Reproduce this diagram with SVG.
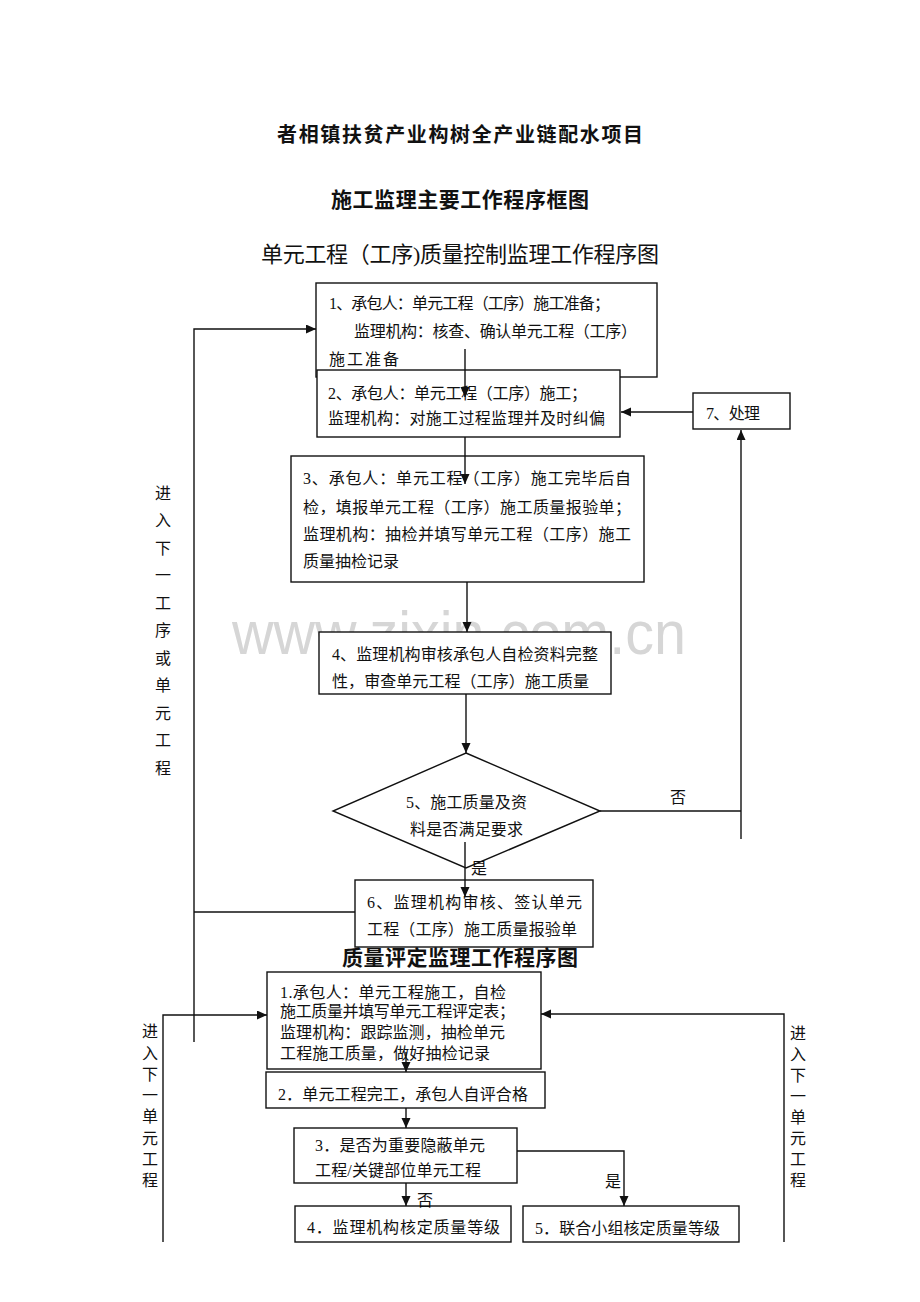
<svg xmlns="http://www.w3.org/2000/svg" width="920" height="1302" viewBox="0 0 920 1302">
<style>
text{font-family:"Liberation Serif","Noto Sans CJK SC",serif;fill:#111;dominant-baseline:central}
.t{font-size:16px}
.lbl{font-size:16px}
.vt{font-size:16px;text-anchor:middle}
.title{font-weight:bold;font-size:20px;text-anchor:middle}
.box{fill:#fff;stroke:#111;stroke-width:1.4}
.ln{fill:none;stroke:#111;stroke-width:1.4}
.wm{font-family:"Liberation Sans",Arial,sans-serif;font-size:62px;fill:#d6d6d6}
</style>
<defs>
<marker id="ah" markerUnits="userSpaceOnUse" markerWidth="10" markerHeight="10" refX="10" refY="4.5" orient="auto">
<path d="M0,0 L10,4.5 L0,9 z" fill="#111"/>
</marker>
</defs>
<rect width="920" height="1302" fill="#fff"/>
<text class="wm" x="232" y="632" textLength="454" lengthAdjust="spacingAndGlyphs">www.zixin.com.cn</text>

<g id="titles">
<text class="title" x="460" y="135" textLength="366">者相镇扶贫产业构树全产业链配水项目</text>
<text class="title" x="460" y="200" style="font-size:21px" textLength="258">施工监理主要工作程序框图</text>
<text x="460" y="254" text-anchor="middle" style="font-size:22px" textLength="398">单元工程（工序)质量控制监理工作程序图</text>
<text class="title" x="460" y="958" style="font-size:21px" textLength="236">质量评定监理工作程序图</text>
</g>

<g id="node1">
<rect class="box" x="316" y="283" width="341" height="94"/>
<text class="t" x="329" y="303" textLength="281">1、承包人：单元工程（工序）施工准备；</text>
<text class="t" x="354" y="331" textLength="283">监理机构：核查、确认单元工程（工序）</text>
<text class="t" x="329" y="359" textLength="70">施工准备</text>
</g>
<g id="node2">
<rect class="box" x="317" y="370" width="303" height="67"/>
<text class="t" x="328" y="393" textLength="259">2、承包人：单元工程（工序）施工；</text>
<text class="t" x="328" y="418" textLength="277">监理机构：对施工过程监理并及时纠偏</text>
</g>
<g id="node3">
<rect class="box" x="291" y="456" width="353" height="126"/>
<text class="t" x="303" y="478" textLength="328">3、承包人：单元工程（工序）施工完毕后自</text>
<text class="t" x="303" y="507" textLength="328">检，填报单元工程（工序）施工质量报验单；</text>
<text class="t" x="303" y="534" textLength="328">监理机构：抽检并填写单元工程（工序）施工</text>
<text class="t" x="303" y="561" textLength="96">质量抽检记录</text>
</g>
<g id="node4">
<rect class="box" x="319" y="632" width="292" height="62"/>
<text class="t" x="332" y="654" textLength="266">4、监理机构审核承包人自检资料完整</text>
<text class="t" x="332" y="681" textLength="257">性，审查单元工程（工序）施工质量</text>
</g>
<g id="node5">
<polygon class="box" points="466,753 600,811 466,868 333,811"/>
<text class="t" x="406" y="802" textLength="121">5、施工质量及资</text>
<text class="t" x="410" y="829" textLength="113">料是否满足要求</text>
</g>
<g id="node6">
<rect class="box" x="355" y="880" width="238" height="67"/>
<text class="t" x="367" y="902" textLength="215">6、监理机构审核、签认单元</text>
<text class="t" x="367" y="929" textLength="210">工程（工序）施工质量报验单</text>
</g>
<g id="node7">
<rect class="box" x="693" y="393" width="97" height="36"/>
<text class="t" x="706" y="413" textLength="54">7、处理</text>
</g>

<g id="nodeB1">
<rect class="box" x="267" y="972" width="274" height="97"/>
<text class="t" x="280" y="992" textLength="226">1.承包人：单元工程施工，自检</text>
<text class="t" x="280" y="1011" textLength="235">施工质量并填写单元工程评定表；</text>
<text class="t" x="280" y="1032" textLength="225">监理机构：跟踪监测，抽检单元</text>
<text class="t" x="280" y="1053" textLength="210">工程施工质量，做好抽检记录</text>
</g>
<g id="nodeB2">
<rect class="box" x="266" y="1072" width="279" height="36"/>
<text class="t" x="278" y="1094" textLength="250">2．单元工程完工，承包人自评合格</text>
</g>
<g id="nodeB3">
<rect class="box" x="294" y="1128" width="223" height="55"/>
<text class="t" x="315" y="1145" textLength="170">3．是否为重要隐蔽单元</text>
<text class="t" x="315" y="1170" textLength="166">工程/关键部位单元工程</text>
</g>
<g id="nodeB4">
<rect class="box" x="295" y="1206" width="216" height="36"/>
<text class="t" x="307" y="1227" textLength="193">4．监理机构核定质量等级</text>
</g>
<g id="nodeB5">
<rect class="box" x="523" y="1206" width="216" height="36"/>
<text class="t" x="535" y="1228" textLength="185">5．联合小组核定质量等级</text>
</g>

<g id="connectors">
<line class="ln" x1="465" y1="349" x2="465" y2="397" marker-end="url(#ah)"/>
<line class="ln" x1="465" y1="437" x2="465" y2="484" marker-end="url(#ah)"/>
<line class="ln" x1="467" y1="582" x2="467" y2="632" marker-end="url(#ah)"/>
<line class="ln" x1="466" y1="694" x2="466" y2="753" marker-end="url(#ah)"/>
<line class="ln" x1="465" y1="842" x2="465" y2="897" marker-end="url(#ah)"/>
<path class="ln" d="M600,811 H741"/>
<line class="ln" x1="741" y1="839" x2="741" y2="430" marker-end="url(#ah)"/>
<line class="ln" x1="693" y1="412" x2="621" y2="412" marker-end="url(#ah)"/>
<path class="ln" d="M355,912 H194"/>
<path class="ln" d="M194,1042 V329 H316" marker-end="url(#ah)"/>
<line class="ln" x1="406" y1="1052" x2="406" y2="1072" marker-end="url(#ah)"/>
<line class="ln" x1="406" y1="1108" x2="406" y2="1128" marker-end="url(#ah)"/>
<line class="ln" x1="406" y1="1183" x2="406" y2="1206" marker-end="url(#ah)"/>
<path class="ln" d="M517,1151 H624 V1206" marker-end="url(#ah)"/>
<path class="ln" d="M163,1242 V1015 H267" marker-end="url(#ah)"/>
<path class="ln" d="M784,1242 V1014 H541" marker-end="url(#ah)"/>
<text class="lbl" x="670" y="797">否</text>
<text class="lbl" x="471" y="868">是</text>
<text class="lbl" x="417" y="1200">否</text>
<text class="lbl" x="605" y="1181">是</text>
</g>

<g id="side-labels">
<text class="vt" x="163" y="493">进</text>
<text class="vt" x="163" y="520">入</text>
<text class="vt" x="163" y="548">下</text>
<text class="vt" x="163" y="575">一</text>
<text class="vt" x="163" y="603">工</text>
<text class="vt" x="163" y="630">序</text>
<text class="vt" x="163" y="658">或</text>
<text class="vt" x="163" y="685">单</text>
<text class="vt" x="163" y="713">元</text>
<text class="vt" x="163" y="740">工</text>
<text class="vt" x="163" y="768">程</text>
<text class="vt" x="150" y="1031">进</text>
<text class="vt" x="150" y="1053">入</text>
<text class="vt" x="150" y="1074">下</text>
<text class="vt" x="150" y="1095">一</text>
<text class="vt" x="150" y="1116">单</text>
<text class="vt" x="150" y="1138">元</text>
<text class="vt" x="150" y="1159">工</text>
<text class="vt" x="150" y="1180">程</text>
<text class="vt" x="798" y="1033">进</text>
<text class="vt" x="798" y="1054">入</text>
<text class="vt" x="798" y="1075">下</text>
<text class="vt" x="798" y="1096">一</text>
<text class="vt" x="798" y="1117">单</text>
<text class="vt" x="798" y="1138">元</text>
<text class="vt" x="798" y="1159">工</text>
<text class="vt" x="798" y="1180">程</text>
</g>
</svg>
